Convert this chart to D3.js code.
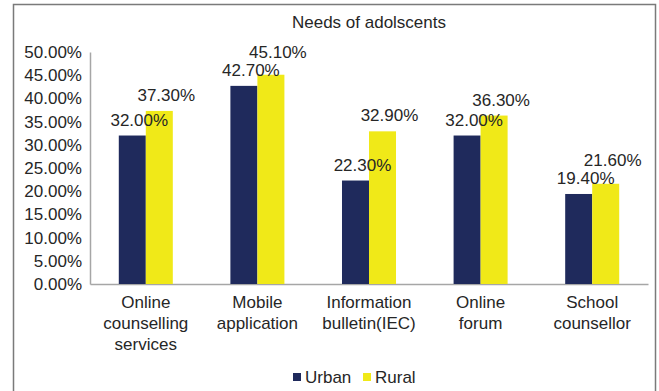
<!DOCTYPE html>
<html>
<head>
<meta charset="utf-8">
<script src="https://cdn.jsdelivr.net/npm/d3@7"></script>
<style>
  body { margin: 0; background: #fff; }
  text { font-family: "Liberation Sans", Arial, sans-serif; fill: #262626; }
</style>
</head>
<body>
<div id="chart"></div>
<script>
// Data
var categories = [
    ["Online", "counselling", "services"],
    ["Mobile", "application"],
    ["Information", "bulletin(IEC)"],
    ["Online", "forum"],
    ["School", "counsellor"]
];
var seriesNames = ["Urban", "Rural"];
var urban = [32.0, 42.7, 22.3, 32.0, 19.4];
var rural = [37.3, 45.1, 32.9, 36.3, 21.6];
var yTicks = [0, 5, 10, 15, 20, 25, 30, 35, 40, 45, 50];
var colors = ["#1f2a5c", "#f0e918"];

var svgWidth = 659;
var svgHeight = 391;

var margin = { top: 52, right: 11, bottom: 107, left: 90 };
var width = svgWidth - margin.left - margin.right;
var height = svgHeight - margin.top - margin.bottom;

var svg = d3.select("#chart")
    .append("svg")
    .attr("width", svgWidth)
    .attr("height", svgHeight);

// outer frame
svg.append("rect")
    .attr("x", 13.5)
    .attr("y", 4.5)
    .attr("width", 642)
    .attr("height", 400)
    .attr("fill", "none")
    .attr("stroke", "#7a7a7a")
    .attr("stroke-width", 1.5);

svg.append("text")
    .attr("x", 369)
    .attr("y", 28)
    .attr("text-anchor", "middle")
    .style("font-size", "17px")
    .text("Needs of adolscents");

var chartGroup = svg.append("g")
    .attr("transform", `translate(${margin.left}, ${margin.top})`);

var xScale = d3.scaleBand()
    .domain(d3.range(categories.length))
    .range([0, width])
    .paddingInner(0.516)
    .paddingOuter(0.258);

var xSub = d3.scaleBand()
    .domain(seriesNames)
    .range([0, xScale.bandwidth()]);

var yScale = d3.scaleLinear()
    .domain([0, 50])
    .range([height, 0]);

// y axis
var leftAxis = d3.axisLeft(yScale)
    .tickValues(yTicks)
    .tickSize(0)
    .tickPadding(8)
    .tickFormat(d => d.toFixed(2) + "%");

var yAxis = chartGroup.append("g").call(leftAxis);
yAxis.select(".domain").attr("stroke", "#a6a6a6").attr("stroke-width", 1.5);
yAxis.selectAll("text")
    .style("font-size", "17px")
    .style("font-family", "'Liberation Sans', Arial, sans-serif")
    .attr("fill", "#262626");

// x axis line
var bottomAxis = d3.axisBottom(xScale).tickSize(0).tickFormat("");
var xAxis = chartGroup.append("g")
    .attr("transform", `translate(0, ${height})`)
    .call(bottomAxis);
xAxis.select(".domain").attr("stroke", "#a6a6a6").attr("stroke-width", 1.5);

// category labels
var catLabels = chartGroup.selectAll(".cat")
    .data(categories)
    .enter()
    .append("text")
    .attr("class", "cat")
    .attr("text-anchor", "middle")
    .style("font-size", "17px");

catLabels.selectAll("tspan")
    .data((d, i) => d.map(line => ({ line: line, i: i })))
    .enter()
    .append("tspan")
    .attr("x", d => xScale(d.i) + xScale.bandwidth() / 2)
    .attr("y", (d, j) => height + 24 + j * 21)
    .text(d => d.line);

// bars
var rows = categories.map((c, i) => ({ i: i, values: [urban[i], rural[i]] }));

var groups = chartGroup.selectAll(".grp")
    .data(rows)
    .enter()
    .append("g")
    .attr("transform", d => `translate(${xScale(d.i)}, 0)`);

groups.selectAll("rect")
    .data(d => d.values.map((v, k) => ({ v: v, k: k })))
    .enter()
    .append("rect")
    .attr("x", d => xSub(seriesNames[d.k]))
    .attr("y", d => yScale(d.v))
    .attr("width", xSub.bandwidth())
    .attr("height", d => height - yScale(d.v))
    .attr("fill", d => colors[d.k]);

// value labels (rural label pushed up when it would crowd the urban one)
groups.each(function(d) {
    var g = d3.select(this);
    var uy = yScale(d.values[0]) - 10;
    var ry = Math.min(yScale(d.values[1]) - 10, uy - 18);
    [uy, ry].forEach(function(y, k) {
        g.append("text")
            .attr("x", xSub(seriesNames[k]) + xSub.bandwidth() / 2 + 7)
            .attr("y", y)
            .attr("text-anchor", "middle")
            .style("font-size", "17px")
            .text(d.values[k].toFixed(2) + "%");
    });
});

// legend
var legend = svg.append("g")
    .attr("transform", "translate(293, 373)");

var legendX = [0, 70];
seriesNames.forEach(function(name, k) {
    legend.append("rect")
        .attr("x", legendX[k])
        .attr("y", 0)
        .attr("width", 8)
        .attr("height", 8)
        .attr("fill", colors[k]);
    legend.append("text")
        .attr("x", legendX[k] + 12)
        .attr("y", 10)
        .style("font-size", "17px")
        .text(name);
});
</script>
</body>
</html>
